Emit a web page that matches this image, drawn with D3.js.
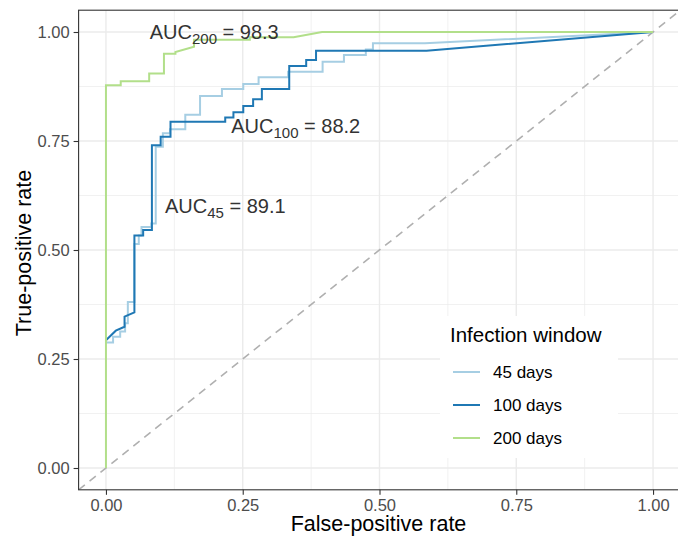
<!DOCTYPE html>
<html>
<head>
<meta charset="utf-8">
<script src="https://cdn.jsdelivr.net/npm/d3@7"></script>
<style>
  html, body { margin: 0; padding: 0; background: #fff; }
  svg { display: block; font-family: "Liberation Sans", Arial, Helvetica, sans-serif; }
</style>
</head>
<body>
<svg id="chart" width="678" height="540"></svg>
<script>
// ---- data ----
const seriesNames = ["45 days", "100 days", "200 days"];
const seriesColors = ["#a6cee3", "#1f78b4", "#b2df8a"];

const fpr45 = [0.000,0.013,0.013,0.026,0.026,0.035,0.035,0.040,0.040,0.052,0.052,0.060,0.060,0.065,0.065,0.083,0.083,0.091,0.091,0.104,0.104,0.117,0.117,0.145,0.145,0.172,0.172,0.212,0.212,0.251,0.251,0.279,0.279,0.333,0.333,0.396,0.396,0.435,0.435,0.475,0.475,0.488,0.488,0.583,1.000];
const tpr45 = [0.288,0.288,0.301,0.301,0.313,0.313,0.332,0.332,0.381,0.381,0.514,0.514,0.533,0.533,0.553,0.553,0.561,0.561,0.737,0.737,0.768,0.768,0.777,0.777,0.810,0.810,0.853,0.853,0.869,0.869,0.881,0.881,0.896,0.896,0.909,0.909,0.932,0.932,0.947,0.947,0.960,0.960,0.974,0.974,1.000];

const fpr100 = [0.000,0.018,0.034,0.034,0.052,0.052,0.068,0.068,0.084,0.084,0.100,0.100,0.118,0.118,0.218,0.218,0.233,0.233,0.251,0.251,0.269,0.269,0.285,0.285,0.335,0.335,0.366,0.366,0.384,0.384,0.586,1.000];
const tpr100 = [0.293,0.315,0.324,0.347,0.357,0.533,0.533,0.546,0.546,0.740,0.740,0.760,0.760,0.794,0.794,0.804,0.804,0.816,0.816,0.830,0.830,0.846,0.846,0.869,0.869,0.922,0.922,0.936,0.936,0.957,0.957,1.000];

const fpr200 = [0.000,0.000,0.027,0.027,0.079,0.079,0.106,0.106,0.127,0.127,0.161,0.161,0.263,0.263,0.343,0.395,1.000];
const tpr200 = [0.000,0.878,0.878,0.887,0.887,0.905,0.905,0.950,0.950,0.954,0.966,0.982,0.982,0.988,0.988,1.000,1.000];

const aucLabels = [
  {sub: "200", value: "98.3", x: 0.080, y: 0.985},
  {sub: "100", value: "88.2", x: 0.229, y: 0.768},
  {sub: "45",  value: "89.1", x: 0.108, y: 0.584}
];

const ticks = [0, 0.25, 0.5, 0.75, 1];
const tickLabels = ["0.00", "0.25", "0.50", "0.75", "1.00"];
const minorTicks = [0.125, 0.375, 0.625, 0.875];

const xTitle = "False-positive rate";
const yTitle = "True-positive rate";
const legendTitle = "Infection window";

// ---- layout ----
const svg = d3.select("#chart");
const panel = {left: 78.6, right: 680.4, top: 10.2, bottom: 489.8};

const x = d3.scaleLinear().domain([-0.05, 1.05]).range([panel.left, panel.right]);
const y = d3.scaleLinear().domain([-0.05, 1.05]).range([panel.bottom, panel.top]);

// panel background
svg.append("rect")
  .attr("x", panel.left).attr("y", panel.top)
  .attr("width", panel.right - panel.left).attr("height", panel.bottom - panel.top)
  .attr("fill", "#fff");

// grid
const grid = svg.append("g");
minorTicks.forEach(t => {
  grid.append("line").attr("x1", x(t)).attr("x2", x(t)).attr("y1", panel.top).attr("y2", panel.bottom)
    .attr("stroke", "#ebebeb").attr("stroke-width", 0.7);
  grid.append("line").attr("y1", y(t)).attr("y2", y(t)).attr("x1", panel.left).attr("x2", panel.right)
    .attr("stroke", "#ebebeb").attr("stroke-width", 0.7);
});
ticks.forEach(t => {
  grid.append("line").attr("x1", x(t)).attr("x2", x(t)).attr("y1", panel.top).attr("y2", panel.bottom)
    .attr("stroke", "#ebebeb").attr("stroke-width", 1.4);
  grid.append("line").attr("y1", y(t)).attr("y2", y(t)).attr("x1", panel.left).attr("x2", panel.right)
    .attr("stroke", "#ebebeb").attr("stroke-width", 1.4);
});

// clip
svg.append("clipPath").attr("id", "clip").append("rect")
  .attr("x", panel.left).attr("y", panel.top)
  .attr("width", panel.right - panel.left).attr("height", panel.bottom - panel.top);

// diagonal reference
svg.append("line")
  .attr("clip-path", "url(#clip)")
  .attr("x1", x(-0.05)).attr("y1", y(-0.05)).attr("x2", x(1.05)).attr("y2", y(1.05))
  .attr("stroke", "#b0b0b0").attr("stroke-width", 1.6).attr("stroke-dasharray", "8,6");

// curves
const line = d3.line().x(d => x(d[0])).y(d => y(d[1]));
const seriesData = [
  d3.zip(fpr45, tpr45),
  d3.zip(fpr100, tpr100),
  d3.zip(fpr200, tpr200)
];
seriesData.forEach((pts, i) => {
  svg.append("path")
    .datum(pts)
    .attr("d", line)
    .attr("fill", "none")
    .attr("stroke", seriesColors[i])
    .attr("stroke-width", 2)
    .attr("stroke-linejoin", "miter");
});

// AUC labels
aucLabels.forEach(a => {
  const t = svg.append("text")
    .attr("x", x(a.x)).attr("y", y(a.y))
    .attr("font-size", 20).attr("fill", "#333");
  t.append("tspan").text("AUC");
  t.append("tspan").attr("font-size", 15).attr("dy", 5).text(a.sub);
  t.append("tspan").attr("dy", -5).text(" = " + a.value);
});

// panel border
svg.append("rect")
  .attr("x", panel.left).attr("y", panel.top)
  .attr("width", panel.right - panel.left).attr("height", panel.bottom - panel.top)
  .attr("fill", "none").attr("stroke", "#333333").attr("stroke-width", 1.1);

// axes
const xAxis = d3.axisBottom(x).tickValues(ticks).tickFormat((d, i) => tickLabels[i]).tickSize(5).tickPadding(4);
const yAxis = d3.axisLeft(y).tickValues(ticks).tickFormat((d, i) => tickLabels[i]).tickSize(5).tickPadding(4);

const gx = svg.append("g").attr("transform", `translate(0,${panel.bottom})`).call(xAxis);
const gy = svg.append("g").attr("transform", `translate(${panel.left},0)`).call(yAxis);
[gx, gy].forEach(g => {
  g.select(".domain").remove();
  g.selectAll(".tick line").attr("stroke", "#333333").attr("stroke-width", 1.1);
  g.selectAll(".tick text").attr("fill", "#4d4d4d").attr("font-size", 16.5)
    .attr("font-family", '"Liberation Sans", Arial, Helvetica, sans-serif');
});

// axis titles
svg.append("text")
  .attr("x", (panel.left + panel.right) / 2 - 1).attr("y", 531)
  .attr("text-anchor", "middle").attr("font-size", 21.5).attr("fill", "#000")
  .text(xTitle);
svg.append("text")
  .attr("transform", `translate(31,${(panel.top + panel.bottom) / 2 + 3}) rotate(-90)`)
  .attr("text-anchor", "middle").attr("font-size", 21.5).attr("fill", "#000")
  .text(yTitle);

// legend
const lg = svg.append("g");
lg.append("rect").attr("x", 440).attr("y", 316).attr("width", 178).attr("height", 142).attr("fill", "#fff");
lg.append("text").attr("x", 450).attr("y", 342).attr("font-size", 20.5).attr("fill", "#000").text(legendTitle);
const legendY = d3.scalePoint().domain(seriesNames).range([372, 438]);
seriesNames.forEach((name, i) => {
  const yy = legendY(name);
  lg.append("line").attr("x1", 453).attr("x2", 480).attr("y1", yy).attr("y2", yy)
    .attr("stroke", seriesColors[i]).attr("stroke-width", 2);
  lg.append("text").attr("x", 493).attr("y", yy + 6).attr("font-size", 17).attr("fill", "#000").text(name);
});
</script>
</body>
</html>
